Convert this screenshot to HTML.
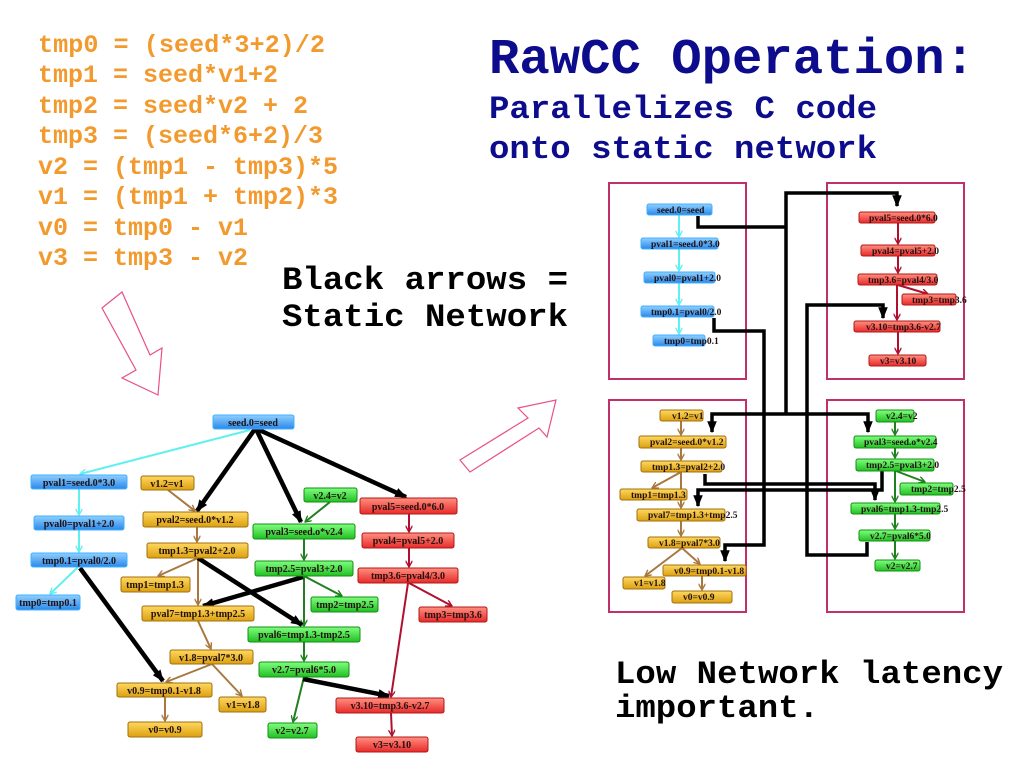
<!DOCTYPE html>
<html><head><meta charset="utf-8"><style>
html,body{margin:0;padding:0;background:#fff;width:1024px;height:768px;overflow:hidden}
svg{display:block}
.n{font-family:"Liberation Serif",serif;font-weight:bold;font-size:10px;fill:#201010}
.m{font-family:"Liberation Serif",serif;font-weight:bold;font-size:9.5px;fill:#201010}
.code{font-family:"Liberation Mono",monospace;font-weight:bold;font-size:25px;fill:#f29a2e}
.big{font-family:"Liberation Mono",monospace;font-weight:bold}
</style></head><body>
<svg width="1024" height="768" viewBox="0 0 1024 768" xmlns="http://www.w3.org/2000/svg">
<defs>
<linearGradient id="gb" x1="0" y1="0" x2="0" y2="1"><stop offset="0" stop-color="#8fd0ff"/><stop offset="1" stop-color="#2a88ea"/></linearGradient>
<linearGradient id="gy" x1="0" y1="0" x2="0" y2="1"><stop offset="0" stop-color="#ffd860"/><stop offset="1" stop-color="#dca010"/></linearGradient>
<linearGradient id="gg" x1="0" y1="0" x2="0" y2="1"><stop offset="0" stop-color="#80ff80"/><stop offset="1" stop-color="#22c022"/></linearGradient>
<linearGradient id="gr" x1="0" y1="0" x2="0" y2="1"><stop offset="0" stop-color="#ff9080"/><stop offset="1" stop-color="#e82a2a"/></linearGradient>
<marker id="ac" viewBox="0 0 10 10" refX="9" refY="5" markerWidth="7" markerHeight="7" orient="auto" markerUnits="userSpaceOnUse"><path d="M0,0 L9,5 L0,10" fill="none" stroke="#60f0f0" stroke-width="2"/></marker>
<marker id="ay" viewBox="0 0 10 10" refX="9" refY="5" markerWidth="7" markerHeight="7" orient="auto" markerUnits="userSpaceOnUse"><path d="M0,0 L9,5 L0,10" fill="none" stroke="#a87840" stroke-width="2"/></marker>
<marker id="ag" viewBox="0 0 10 10" refX="9" refY="5" markerWidth="7" markerHeight="7" orient="auto" markerUnits="userSpaceOnUse"><path d="M0,0 L9,5 L0,10" fill="none" stroke="#208020" stroke-width="2"/></marker>
<marker id="ar" viewBox="0 0 10 10" refX="9" refY="5" markerWidth="7" markerHeight="7" orient="auto" markerUnits="userSpaceOnUse"><path d="M0,0 L9,5 L0,10" fill="none" stroke="#b01030" stroke-width="2"/></marker>
<marker id="ak" viewBox="0 0 10 10" refX="9" refY="5" markerWidth="12" markerHeight="12" orient="auto" markerUnits="userSpaceOnUse"><path d="M0,1 L10,5 L0,9 Z" fill="#000"/></marker>
</defs>

<!-- code -->
<text class="code" x="38" y="52" textLength="287" lengthAdjust="spacingAndGlyphs">tmp0 = (seed*3+2)/2</text>
<text class="code" x="38" y="82">tmp1 = seed*v1+2</text>
<text class="code" x="38" y="113">tmp2 = seed*v2 + 2</text>
<text class="code" x="38" y="143">tmp3 = (seed*6+2)/3</text>
<text class="code" x="38" y="174">v2 = (tmp1 - tmp3)*5</text>
<text class="code" x="38" y="204">v1 = (tmp1 + tmp2)*3</text>
<text class="code" x="38" y="235">v0 = tmp0 - v1</text>
<text class="code" x="38" y="265">v3 = tmp3 - v2</text>

<text class="big" x="489" y="73" font-size="50" fill="#0c0c8c" textLength="486" lengthAdjust="spacingAndGlyphs">RawCC Operation:</text>
<text class="big" x="489" y="118" font-size="32" fill="#0c0c8c" textLength="388" lengthAdjust="spacingAndGlyphs">Parallelizes C code</text>
<text class="big" x="489" y="158" font-size="32" fill="#0c0c8c" textLength="388" lengthAdjust="spacingAndGlyphs">onto static network</text>
<text class="big" x="282" y="289" font-size="32" fill="#000" textLength="286" lengthAdjust="spacingAndGlyphs">Black arrows =</text>
<text class="big" x="282" y="326" font-size="32" fill="#000" textLength="286" lengthAdjust="spacingAndGlyphs">Static Network</text>
<text class="big" x="615" y="683" font-size="32" fill="#000" textLength="388" lengthAdjust="spacingAndGlyphs">Low Network latency</text>
<text class="big" x="615" y="717" font-size="32" fill="#000" textLength="204" lengthAdjust="spacingAndGlyphs">important.</text>

<!-- hollow arrows -->
<polygon points="102,308 122,292 150,355 162,348 158,395 122,378 136,370" fill="none" stroke="#e8508a" stroke-width="1.2"/>
<polygon points="460,460 528,418 518,408 556,400 547,437 539,428 470,472" fill="none" stroke="#e8508a" stroke-width="1.2"/>

<!-- LEFT GRAPH edges (colored) -->
<g fill="none" stroke-width="2">
<line x1="250" y1="430" x2="80" y2="474" stroke="#60f0f0" marker-end="url(#ac)"/>
<line x1="79" y1="489" x2="79" y2="515" stroke="#60f0f0" marker-end="url(#ac)"/>
<line x1="79" y1="530" x2="79" y2="552" stroke="#60f0f0" marker-end="url(#ac)"/>
<line x1="78" y1="567" x2="50" y2="594" stroke="#60f0f0" marker-end="url(#ac)"/>
<line x1="168" y1="490" x2="195" y2="511" stroke="#a87840" marker-end="url(#ay)"/>
<line x1="197" y1="527" x2="197" y2="542" stroke="#a87840" marker-end="url(#ay)"/>
<line x1="198" y1="558" x2="158" y2="576" stroke="#a87840" marker-end="url(#ay)"/>
<line x1="198" y1="558" x2="198" y2="605" stroke="#a87840" marker-end="url(#ay)"/>
<line x1="198" y1="621" x2="211" y2="649" stroke="#a87840" marker-end="url(#ay)"/>
<line x1="212" y1="664" x2="166" y2="682" stroke="#a87840" marker-end="url(#ay)"/>
<line x1="212" y1="664" x2="242" y2="696" stroke="#a87840" marker-end="url(#ay)"/>
<line x1="165" y1="697" x2="165" y2="721" stroke="#a87840" marker-end="url(#ay)"/>
<line x1="330" y1="502" x2="305" y2="522" stroke="#208020" marker-end="url(#ag)"/>
<line x1="304" y1="539" x2="304" y2="560" stroke="#208020" marker-end="url(#ag)"/>
<line x1="304" y1="576" x2="342" y2="596" stroke="#208020" marker-end="url(#ag)"/>
<line x1="304" y1="576" x2="304" y2="626" stroke="#208020" marker-end="url(#ag)"/>
<line x1="304" y1="642" x2="304" y2="661" stroke="#208020" marker-end="url(#ag)"/>
<line x1="304" y1="677" x2="293" y2="722" stroke="#208020" marker-end="url(#ag)"/>
<line x1="409" y1="514" x2="409" y2="532" stroke="#b01030" marker-end="url(#ar)"/>
<line x1="409" y1="548" x2="409" y2="567" stroke="#b01030" marker-end="url(#ar)"/>
<line x1="409" y1="583" x2="452" y2="606" stroke="#b01030" marker-end="url(#ar)"/>
<line x1="408" y1="583" x2="391" y2="697" stroke="#b01030" marker-end="url(#ar)"/>
<line x1="391" y1="713" x2="392" y2="736" stroke="#b01030" marker-end="url(#ar)"/>
</g>
<g fill="none" stroke="#000" stroke-width="4.5" marker-end="url(#ak)">
<line x1="255" y1="429" x2="197" y2="511"/>
<line x1="256" y1="429" x2="301" y2="522"/>
<line x1="257" y1="429" x2="406" y2="497"/>
<line x1="80" y1="568" x2="163" y2="681"/>
<line x1="198" y1="558" x2="302" y2="625"/>
<line x1="303" y1="577" x2="203" y2="606"/>
<line x1="303" y1="679" x2="389" y2="696"/>
</g>

<!-- LEFT GRAPH nodes -->
<g stroke-width="1">
<rect x="213" y="415" width="81" height="14" rx="2" fill="url(#gb)" stroke="#40b0ff"/>
<rect x="31" y="475" width="96" height="14" rx="2" fill="url(#gb)" stroke="#40b0ff"/>
<rect x="34" y="516" width="90" height="14" rx="2" fill="url(#gb)" stroke="#40b0ff"/>
<rect x="31" y="553" width="96" height="14" rx="2" fill="url(#gb)" stroke="#40b0ff"/>
<rect x="16" y="595" width="64" height="15" rx="2" fill="url(#gb)" stroke="#40b0ff"/>
<rect x="141" y="476" width="53" height="14" rx="2" fill="url(#gy)" stroke="#a07010"/>
<rect x="143" y="512" width="105" height="15" rx="2" fill="url(#gy)" stroke="#a07010"/>
<rect x="147" y="543" width="101" height="15" rx="2" fill="url(#gy)" stroke="#a07010"/>
<rect x="121" y="577" width="69" height="15" rx="2" fill="url(#gy)" stroke="#a07010"/>
<rect x="142" y="606" width="112" height="15" rx="2" fill="url(#gy)" stroke="#a07010"/>
<rect x="170" y="650" width="83" height="14" rx="2" fill="url(#gy)" stroke="#a07010"/>
<rect x="117" y="683" width="95" height="14" rx="2" fill="url(#gy)" stroke="#a07010"/>
<rect x="219" y="697" width="47" height="15" rx="2" fill="url(#gy)" stroke="#a07010"/>
<rect x="128" y="722" width="74" height="15" rx="2" fill="url(#gy)" stroke="#a07010"/>
<rect x="304" y="488" width="53" height="14" rx="2" fill="url(#gg)" stroke="#109010"/>
<rect x="253" y="524" width="102" height="15" rx="2" fill="url(#gg)" stroke="#109010"/>
<rect x="255" y="561" width="98" height="15" rx="2" fill="url(#gg)" stroke="#109010"/>
<rect x="311" y="597" width="67" height="15" rx="2" fill="url(#gg)" stroke="#109010"/>
<rect x="248" y="627" width="112" height="15" rx="2" fill="url(#gg)" stroke="#109010"/>
<rect x="259" y="662" width="90" height="15" rx="2" fill="url(#gg)" stroke="#109010"/>
<rect x="268" y="723" width="49" height="15" rx="2" fill="url(#gg)" stroke="#109010"/>
<rect x="360" y="498" width="97" height="16" rx="2" fill="url(#gr)" stroke="#b01818"/>
<rect x="362" y="533" width="92" height="15" rx="2" fill="url(#gr)" stroke="#b01818"/>
<rect x="358" y="568" width="100" height="15" rx="2" fill="url(#gr)" stroke="#b01818"/>
<rect x="419" y="607" width="68" height="15" rx="2" fill="url(#gr)" stroke="#b01818"/>
<rect x="336" y="698" width="108" height="15" rx="2" fill="url(#gr)" stroke="#b01818"/>
<rect x="356" y="737" width="72" height="15" rx="2" fill="url(#gr)" stroke="#b01818"/>
</g>
<g class="n" text-anchor="middle">
<text x="253" y="426">seed.0=seed</text>
<text x="79" y="486">pval1=seed.0*3.0</text>
<text x="79" y="527">pval0=pval1+2.0</text>
<text x="79" y="564">tmp0.1=pval0/2.0</text>
<text x="48" y="606">tmp0=tmp0.1</text>
<text x="167" y="487">v1.2=v1</text>
<text x="195" y="523">pval2=seed.0*v1.2</text>
<text x="197" y="554">tmp1.3=pval2+2.0</text>
<text x="155" y="588">tmp1=tmp1.3</text>
<text x="198" y="617">pval7=tmp1.3+tmp2.5</text>
<text x="211" y="661">v1.8=pval7*3.0</text>
<text x="164" y="694">v0.9=tmp0.1-v1.8</text>
<text x="243" y="708">v1=v1.8</text>
<text x="165" y="733">v0=v0.9</text>
<text x="330" y="499">v2.4=v2</text>
<text x="304" y="535">pval3=seed.o*v2.4</text>
<text x="304" y="572">tmp2.5=pval3+2.0</text>
<text x="345" y="608">tmp2=tmp2.5</text>
<text x="304" y="638">pval6=tmp1.3-tmp2.5</text>
<text x="304" y="673">v2.7=pval6*5.0</text>
<text x="292" y="734">v2=v2.7</text>
<text x="408" y="510">pval5=seed.0*6.0</text>
<text x="408" y="544">pval4=pval5+2.0</text>
<text x="408" y="579">tmp3.6=pval4/3.0</text>
<text x="453" y="618">tmp3=tmp3.6</text>
<text x="390" y="709">v3.10=tmp3.6-v2.7</text>
<text x="392" y="748">v3=v3.10</text>
</g>

<!-- RIGHT: tile boxes -->
<g fill="none" stroke="#c0306a" stroke-width="2">
<rect x="609" y="183" width="137" height="196"/>
<rect x="827" y="183" width="137" height="196"/>
<rect x="609" y="400" width="137" height="212"/>
<rect x="827" y="400" width="137" height="212"/>
</g>

<!-- RIGHT colored edges -->
<g fill="none" stroke-width="2">
<line x1="679" y1="215" x2="679" y2="237" stroke="#60f0f0" marker-end="url(#ac)"/>
<line x1="679" y1="249" x2="679" y2="271" stroke="#60f0f0" marker-end="url(#ac)"/>
<line x1="679" y1="283" x2="679" y2="305" stroke="#60f0f0" marker-end="url(#ac)"/>
<line x1="679" y1="317" x2="679" y2="334" stroke="#60f0f0" marker-end="url(#ac)"/>
<line x1="898" y1="223" x2="898" y2="244" stroke="#b01030" marker-end="url(#ar)"/>
<line x1="898" y1="256" x2="898" y2="273" stroke="#b01030" marker-end="url(#ar)"/>
<line x1="898" y1="285" x2="928" y2="294" stroke="#b01030" marker-end="url(#ar)"/>
<line x1="897" y1="285" x2="897" y2="320" stroke="#b01030" marker-end="url(#ar)"/>
<line x1="898" y1="332" x2="898" y2="354" stroke="#b01030" marker-end="url(#ar)"/>
<line x1="681" y1="421" x2="681" y2="435" stroke="#a87840" marker-end="url(#ay)"/>
<line x1="681" y1="448" x2="681" y2="460" stroke="#a87840" marker-end="url(#ay)"/>
<line x1="681" y1="472" x2="652" y2="488" stroke="#a87840" marker-end="url(#ay)"/>
<line x1="681" y1="472" x2="681" y2="508" stroke="#a87840" marker-end="url(#ay)"/>
<line x1="681" y1="521" x2="681" y2="536" stroke="#a87840" marker-end="url(#ay)"/>
<line x1="682" y1="548" x2="645" y2="576" stroke="#a87840" marker-end="url(#ay)"/>
<line x1="682" y1="548" x2="700" y2="564" stroke="#a87840" marker-end="url(#ay)"/>
<line x1="702" y1="576" x2="702" y2="590" stroke="#a87840" marker-end="url(#ay)"/>
<line x1="895" y1="422" x2="895" y2="435" stroke="#208020" marker-end="url(#ag)"/>
<line x1="895" y1="448" x2="895" y2="458" stroke="#208020" marker-end="url(#ag)"/>
<line x1="896" y1="471" x2="925" y2="482" stroke="#208020" marker-end="url(#ag)"/>
<line x1="895" y1="471" x2="895" y2="502" stroke="#208020" marker-end="url(#ag)"/>
<line x1="895" y1="514" x2="895" y2="529" stroke="#208020" marker-end="url(#ag)"/>
<line x1="895" y1="541" x2="895" y2="559" stroke="#208020" marker-end="url(#ag)"/>
</g>
<!-- RIGHT black network routes -->
<g fill="none" stroke="#000" stroke-width="3.5">
<polyline points="698,216 698,227 786,227"/>
<polyline points="786,414 786,193 897,193 897,206" marker-end="url(#ak)"/>
<polyline points="786,414 712,414 712,432" marker-end="url(#ak)"/>
<polyline points="786,414 868,414 868,432" marker-end="url(#ak)"/>
<polyline points="714,318 714,331 764,331 764,545 725,545 725,561" marker-end="url(#ak)"/>
<polyline points="867,542 867,555 807,555 807,305 883,305 883,318" marker-end="url(#ak)"/>
<polyline points="705,474 705,484 875,484 875,500" marker-end="url(#ak)"/>
<polyline points="882,471 882,490 698,490 698,506" marker-end="url(#ak)"/>
</g>

<!-- RIGHT nodes -->
<g stroke-width="1">
<rect x="647" y="204" width="65" height="11" rx="2" fill="url(#gb)" stroke="#40b0ff"/>
<rect x="641" y="238" width="77" height="11" rx="2" fill="url(#gb)" stroke="#40b0ff"/>
<rect x="644" y="272" width="71" height="11" rx="2" fill="url(#gb)" stroke="#40b0ff"/>
<rect x="641" y="306" width="73" height="11" rx="2" fill="url(#gb)" stroke="#40b0ff"/>
<rect x="653" y="335" width="52" height="11" rx="2" fill="url(#gb)" stroke="#40b0ff"/>
<rect x="859" y="212" width="76" height="11" rx="2" fill="url(#gr)" stroke="#b01818"/>
<rect x="861" y="245" width="74" height="11" rx="2" fill="url(#gr)" stroke="#b01818"/>
<rect x="858" y="274" width="79" height="11" rx="2" fill="url(#gr)" stroke="#b01818"/>
<rect x="902" y="294" width="54" height="11" rx="2" fill="url(#gr)" stroke="#b01818"/>
<rect x="854" y="321" width="86" height="11" rx="2" fill="url(#gr)" stroke="#b01818"/>
<rect x="869" y="355" width="57" height="11" rx="2" fill="url(#gr)" stroke="#b01818"/>
<rect x="660" y="410" width="43" height="11" rx="2" fill="url(#gy)" stroke="#a07010"/>
<rect x="639" y="436" width="87" height="12" rx="2" fill="url(#gy)" stroke="#a07010"/>
<rect x="641" y="461" width="81" height="11" rx="2" fill="url(#gy)" stroke="#a07010"/>
<rect x="620" y="489" width="67" height="11" rx="2" fill="url(#gy)" stroke="#a07010"/>
<rect x="637" y="509" width="88" height="12" rx="2" fill="url(#gy)" stroke="#a07010"/>
<rect x="648" y="537" width="72" height="11" rx="2" fill="url(#gy)" stroke="#a07010"/>
<rect x="663" y="565" width="83" height="11" rx="2" fill="url(#gy)" stroke="#a07010"/>
<rect x="623" y="577" width="42" height="12" rx="2" fill="url(#gy)" stroke="#a07010"/>
<rect x="672" y="591" width="60" height="12" rx="2" fill="url(#gy)" stroke="#a07010"/>
<rect x="876" y="410" width="38" height="12" rx="2" fill="url(#gg)" stroke="#109010"/>
<rect x="854" y="436" width="82" height="12" rx="2" fill="url(#gg)" stroke="#109010"/>
<rect x="856" y="459" width="78" height="12" rx="2" fill="url(#gg)" stroke="#109010"/>
<rect x="900" y="483" width="53" height="12" rx="2" fill="url(#gg)" stroke="#109010"/>
<rect x="851" y="503" width="89" height="11" rx="2" fill="url(#gg)" stroke="#109010"/>
<rect x="859" y="530" width="71" height="11" rx="2" fill="url(#gg)" stroke="#109010"/>
<rect x="875" y="560" width="45" height="11" rx="2" fill="url(#gg)" stroke="#109010"/>
</g>
<g class="m">
<text x="657" y="213">seed.0=seed</text>
<text x="651" y="247">pval1=seed.0*3.0</text>
<text x="654" y="281">pval0=pval1+2.0</text>
<text x="651" y="315">tmp0.1=pval0/2.0</text>
<text x="664" y="344">tmp0=tmp0.1</text>
<text x="869" y="221">pval5=seed.0*6.0</text>
<text x="872" y="254">pval4=pval5+2.0</text>
<text x="868" y="283">tmp3.6=pval4/3.0</text>
<text x="912" y="303">tmp3=tmp3.6</text>
<text x="866" y="330">v3.10=tmp3.6-v2.7</text>
<text x="880" y="364">v3=v3.10</text>
<text x="672" y="419">v1.2=v1</text>
<text x="650" y="445">pval2=seed.0*v1.2</text>
<text x="652" y="470">tmp1.3=pval2+2.0</text>
<text x="631" y="498">tmp1=tmp1.3</text>
<text x="648" y="518">pval7=tmp1.3+tmp2.5</text>
<text x="659" y="546">v1.8=pval7*3.0</text>
<text x="674" y="574">v0.9=tmp0.1-v1.8</text>
<text x="634" y="586">v1=v1.8</text>
<text x="683" y="600">v0=v0.9</text>
<text x="886" y="419">v2.4=v2</text>
<text x="864" y="445">pval3=seed.o*v2.4</text>
<text x="866" y="468">tmp2.5=pval3+2.0</text>
<text x="911" y="492">tmp2=tmp2.5</text>
<text x="861" y="512">pval6=tmp1.3-tmp2.5</text>
<text x="870" y="539">v2.7=pval6*5.0</text>
<text x="886" y="569">v2=v2.7</text>
</g>
</svg>
</body></html>
